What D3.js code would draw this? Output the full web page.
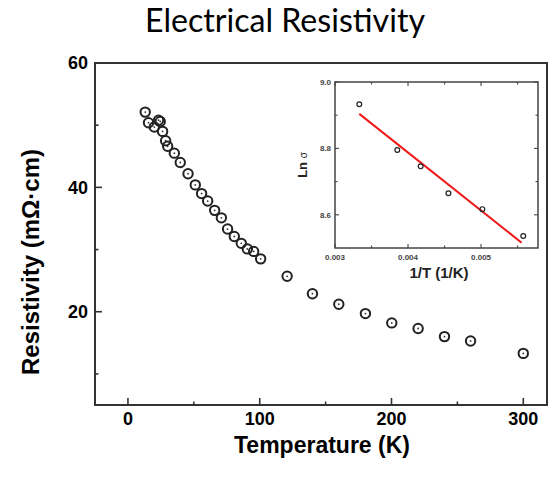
<!DOCTYPE html>
<html>
<head>
<meta charset="utf-8">
<script src="https://cdn.jsdelivr.net/npm/d3@7/dist/d3.min.js"></script>
<style>
  html, body { margin: 0; padding: 0; background: #fff; }
  svg { display: block; }
</style>
</head>
<body>
<svg id="chart" width="553" height="479"></svg>
<script>
// Resistivity vs temperature (main panel)
const temperature = [13.1, 15.6, 20.0, 23.2, 24.5, 26.3, 28.6, 30.1, 35.2, 39.7, 45.6, 51.1, 55.9, 60.5, 65.8, 70.9, 75.6, 80.7, 86.0, 90.6, 95.4, 100.7,
                     120.8, 140, 160, 180.2, 200.2, 220.2, 240.2, 260, 300];
const resistivity = [52.1, 50.4, 49.7, 50.8, 50.6, 49.0, 47.5, 46.6, 45.5, 44.0, 42.2, 40.4, 39.0, 37.8, 36.3, 35.1, 33.3, 32.1, 31.0, 30.1, 29.7, 28.5,
                     25.7, 22.9, 21.2, 19.7, 18.2, 17.3, 16.0, 15.3, 13.3];
const xTicks = [0, 100, 200, 300];
const xMinor = [50, 150, 250];
const yTicks = [20, 40, 60];
const yMinor = [10, 30, 50];

// Arrhenius plot (inset): ln(conductivity) vs 1/T
const invT = [0.003333, 0.003853, 0.004173, 0.004553, 0.005018, 0.005578];
const lnSigma = [8.933, 8.795, 8.746, 8.665, 8.617, 8.536];
const fitInvT = [0.003333, 0.005556];
const fitLnSigma = [8.904, 8.516];
const insetXTicks = [0.003, 0.004, 0.005];
const insetXMinor = [0.0035, 0.0045, 0.0055];
const insetYTicks = [8.6, 8.8, 9.0];
const insetYMinor = [8.7, 8.9];

const svg = d3.select("#chart");
const axisFont = "'Liberation Sans', Arial, sans-serif";
const frameColor = "#333";

// ---- Title ----
const title = svg.append("text")
  .attr("x", 285).attr("y", 32)
  .attr("text-anchor", "middle")
  .attr("font-family", "Lato, 'Open Sans', sans-serif")
  .attr("font-size", 28)
  .attr("fill", "#000")
  .text("Electrical Resistivity");
// fit the title to its intended width
{
  const w = title.node().getComputedTextLength();
  title.attr("font-size", 28 * 280 / w);
}

// ---- Main panel ----
const M = { left: 95, right: 547, top: 63, bottom: 405 };
const x = d3.scaleLinear().domain([-25, 318]).range([M.left, M.right]);
const y = d3.scaleLinear().domain([5, 60]).range([M.bottom, M.top]);

const main = svg.append("g");

// ticks pointing inward
function drawTicks(g, axis, scale, values, len) {
  values.forEach(v => {
    const p = scale(v);
    if (axis === "bottom") g.append("line").attr("x1", p).attr("x2", p).attr("y1", M.bottom).attr("y2", M.bottom - len);
    if (axis === "left") g.append("line").attr("y1", p).attr("y2", p).attr("x1", M.left).attr("x2", M.left + len);
  });
}
const tickG = main.append("g").attr("stroke", frameColor).attr("stroke-width", 1.6);
drawTicks(tickG, "bottom", x, xTicks, 7);
drawTicks(tickG, "bottom", x, xMinor, 3.5);
drawTicks(tickG, "left", y, yTicks, 7);
drawTicks(tickG, "left", y, yMinor, 3.5);

main.append("rect")
  .attr("x", M.left).attr("y", M.top)
  .attr("width", M.right - M.left).attr("height", M.bottom - M.top)
  .attr("fill", "none").attr("stroke", frameColor).attr("stroke-width", 2);

main.append("g").selectAll("text").data(xTicks).join("text")
  .attr("x", d => x(d)).attr("y", 425)
  .attr("text-anchor", "middle")
  .attr("font-family", axisFont).attr("font-weight", "bold").attr("font-size", 18)
  .text(d => d);

main.append("g").selectAll("text").data(yTicks).join("text")
  .attr("x", 88).attr("y", d => y(d))
  .attr("dy", "0.35em")
  .attr("text-anchor", "end")
  .attr("font-family", axisFont).attr("font-weight", "bold").attr("font-size", 18)
  .text(d => d);

svg.append("text")
  .attr("x", 322).attr("y", 453)
  .attr("text-anchor", "middle")
  .attr("font-family", axisFont).attr("font-weight", "bold").attr("font-size", 23)
  .text("Temperature (K)");

svg.append("text")
  .attr("transform", "translate(39, 262) rotate(-90)")
  .attr("text-anchor", "middle")
  .attr("font-family", axisFont).attr("font-weight", "bold").attr("font-size", 24)
  .text("Resistivity (mΩ·cm)");

// data markers: open circle with centre dot
const pts = main.append("g");
const mainData = temperature.map((t, i) => [t, resistivity[i]]);
pts.selectAll("circle.ring").data(mainData).join("circle")
  .attr("class", "ring")
  .attr("cx", d => x(d[0])).attr("cy", d => y(d[1]))
  .attr("r", 4.7)
  .attr("fill", "none").attr("stroke", "#222").attr("stroke-width", 2);
pts.selectAll("circle.dot").data(mainData).join("circle")
  .attr("class", "dot")
  .attr("cx", d => x(d[0])).attr("cy", d => y(d[1]))
  .attr("r", 0.9)
  .attr("fill", "#333");

// ---- Inset ----
const I = { left: 335, right: 538, top: 82, bottom: 248 };
const ix = d3.scaleLinear().domain([0.003, 0.00578]).range([I.left, I.right]);
const iy = d3.scaleLinear().domain([8.5, 9.0]).range([I.bottom, I.top]);
const inset = svg.append("g");
inset.append("rect")
  .attr("x", I.left).attr("y", I.top)
  .attr("width", I.right - I.left).attr("height", I.bottom - I.top)
  .attr("fill", "#fff");

const it = inset.append("g").attr("stroke", "#444").attr("stroke-width", 1.1);
[[insetXTicks, 4], [insetXMinor, 2.5]].forEach(([vals, len]) => vals.forEach(v => {
  const p = ix(v);
  it.append("line").attr("x1", p).attr("x2", p).attr("y1", I.bottom).attr("y2", I.bottom - len);
  it.append("line").attr("x1", p).attr("x2", p).attr("y1", I.top).attr("y2", I.top + len);
}));
[[insetYTicks, 4], [insetYMinor, 2.5]].forEach(([vals, len]) => vals.forEach(v => {
  const p = iy(v);
  it.append("line").attr("y1", p).attr("y2", p).attr("x1", I.left).attr("x2", I.left + len);
  it.append("line").attr("y1", p).attr("y2", p).attr("x1", I.right).attr("x2", I.right - len);
}));

inset.append("rect")
  .attr("x", I.left).attr("y", I.top)
  .attr("width", I.right - I.left).attr("height", I.bottom - I.top)
  .attr("fill", "none").attr("stroke", "#444").attr("stroke-width", 1.5);

inset.append("g").selectAll("text").data(insetXTicks).join("text")
  .attr("x", d => ix(d)).attr("y", 260)
  .attr("text-anchor", "middle")
  .attr("font-family", axisFont).attr("font-weight", "bold").attr("font-size", 8)
  .attr("fill", "#444")
  .text(d => d3.format(".3f")(d));

inset.append("g").selectAll("text").data(insetYTicks).join("text")
  .attr("x", I.left - 4).attr("y", d => iy(d))
  .attr("dy", "0.35em")
  .attr("text-anchor", "end")
  .attr("font-family", axisFont).attr("font-weight", "bold").attr("font-size", 8)
  .attr("fill", "#444")
  .text(d => d3.format(".1f")(d));

inset.append("text")
  .attr("x", 439).attr("y", 278)
  .attr("text-anchor", "middle")
  .attr("font-family", axisFont).attr("font-weight", "bold").attr("font-size", 15)
  .attr("fill", "#222")
  .text("1/T (1/K)");

const lnLabel = inset.append("text")
  .attr("transform", `translate(307, ${(I.top + I.bottom) / 2}) rotate(-90)`)
  .attr("text-anchor", "middle")
  .attr("font-family", axisFont).attr("font-weight", "bold").attr("font-size", 13)
  .attr("fill", "#222");
lnLabel.append("tspan").text("Ln ");
lnLabel.append("tspan").attr("font-size", 10).attr("font-weight", "normal").text("σ");

// linear fit
const fitLine = d3.line().x(d => ix(d[0])).y(d => iy(d[1]));
inset.append("path")
  .datum(fitInvT.map((v, i) => [v, fitLnSigma[i]]))
  .attr("d", fitLine)
  .attr("fill", "none").attr("stroke", "#f01818").attr("stroke-width", 2);

inset.append("g").selectAll("circle").data(invT.map((v, i) => [v, lnSigma[i]])).join("circle")
  .attr("cx", d => ix(d[0])).attr("cy", d => iy(d[1]))
  .attr("r", 2.4)
  .attr("fill", "none").attr("stroke", "#222").attr("stroke-width", 1.2);
</script>
</body>
</html>
